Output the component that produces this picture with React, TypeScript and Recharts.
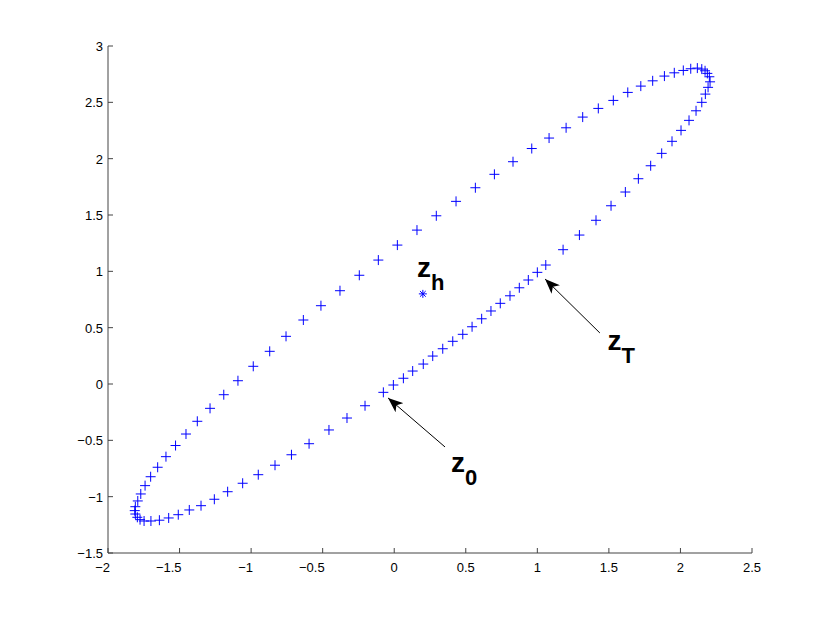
import { ScatterChart, Scatter, XAxis, YAxis, ReferenceLine } from 'recharts';

// trajectory samples (x, y)
const trajX = [
  -0.076, -0.006, 0.064, 0.129, 0.203, 0.269, 0.339, 0.409, 0.479, 0.544,
  0.611, 0.676, 0.741, 0.809, 0.874, 0.937, 1.0, 1.059, 1.18, 1.294,
  1.41, 1.515, 1.615, 1.706, 1.792, 1.869, 1.941, 2.004, 2.06, 2.109,
  2.149, 2.174, 2.193, 2.207, 2.202, 2.188, 2.172, 2.149, 2.118, 2.072,
  2.02, 1.957, 1.888, 1.806, 1.723, 1.632, 1.531, 1.426, 1.317, 1.201,
  1.082, 0.961, 0.83, 0.7, 0.567, 0.432, 0.294, 0.159, 0.022, -0.111,
  -0.244, -0.379, -0.512, -0.635, -0.756, -0.87, -0.985, -1.092, -1.191, -1.287,
  -1.376, -1.455, -1.528, -1.595, -1.653, -1.702, -1.741, -1.771, -1.792, -1.809,
  -1.813, -1.809, -1.795, -1.776, -1.748, -1.7, -1.641, -1.576, -1.509, -1.432,
  -1.35, -1.257, -1.164, -1.059, -0.95, -0.833, -0.718, -0.595, -0.456, -0.33,
  -0.204,
];
const trajY = [
  -0.074, -0.009, 0.051, 0.115, 0.177, 0.248, 0.313, 0.379, 0.441, 0.508,
  0.579, 0.648, 0.716, 0.783, 0.854, 0.923, 0.991, 1.056, 1.192, 1.322,
  1.453, 1.582, 1.704, 1.822, 1.937, 2.047, 2.154, 2.251, 2.34, 2.425,
  2.5, 2.573, 2.633, 2.682, 2.727, 2.757, 2.78, 2.795, 2.804, 2.798,
  2.783, 2.762, 2.733, 2.691, 2.644, 2.588, 2.517, 2.446, 2.369, 2.274,
  2.183, 2.09, 1.973, 1.861, 1.742, 1.621, 1.493, 1.366, 1.233, 1.1,
  0.965, 0.828, 0.695, 0.568, 0.423, 0.29, 0.157, 0.029, -0.095, -0.216,
  -0.331, -0.444, -0.546, -0.645, -0.739, -0.823, -0.902, -0.976, -1.038, -1.089,
  -1.124, -1.154, -1.183, -1.204, -1.216, -1.216, -1.209, -1.189, -1.16, -1.118,
  -1.08, -1.023, -0.956, -0.881, -0.805, -0.721, -0.628, -0.53, -0.408, -0.302,
  -0.193,
];

const centerX = [0.2];
const centerY = [0.8];

const xTicks = [-2, -1.5, -1, -0.5, 0, 0.5, 1, 1.5, 2, 2.5];
const yTicks = [-1.5, -1, -0.5, 0, 0.5, 1, 1.5, 2, 2.5, 3];

// annotations: z_h, z_T, z_0
const labelSub = ['h', 'T', '0'];
const labelX = [0.16, 1.49, 0.397];
const labelY = [0.95, 0.3, -0.78];

const arrowTailX = [1.437, 0.355];
const arrowTailY = [0.453, -0.559];
const arrowHeadX = [1.054, -0.043];
const arrowHeadY = [0.932, -0.124];

const trajData = trajX.map((x, i) => ({ x, y: trajY[i] }));
const centerData = centerX.map((x, i) => ({ x, y: centerY[i] }));
const labelData = labelX.map((x, i) => ({ x, y: labelY[i], sub: labelSub[i] }));

const FONT = "'Liberation Sans', Arial, Helvetica, sans-serif";
const AXIS = '#444';
const BLUE = '#0000ff';

const fmt = (v: number) => String(v).replace('-', '\u2212');

const Plus = (props: any) => {
  const { cx, cy } = props;
  return (
    <path
      d={`M${cx - 5},${cy}H${cx + 5}M${cx},${cy - 5}V${cy + 5}`}
      stroke={BLUE}
      strokeWidth={1}
      fill="none"
    />
  );
};

const Star = (props: any) => {
  const { cx, cy } = props;
  const r = 4;
  const d = r * 0.72;
  return (
    <path
      d={`M${cx - r},${cy}H${cx + r}M${cx},${cy - r}V${cy + r}M${cx - d},${cy - d}L${cx + d},${cy + d}M${cx - d},${cy + d}L${cx + d},${cy - d}`}
      stroke={BLUE}
      strokeWidth={1}
      fill="none"
    />
  );
};

const Label = (props: any) => {
  const { cx, cy, payload } = props;
  return (
    <text x={cx} y={cy} fontFamily={FONT} fontWeight="bold" fill="#000">
      <tspan fontSize={28}>z</tspan>
      <tspan fontSize={22} dx={0} dy={13}>
        {payload.sub}
      </tspan>
    </text>
  );
};

const XTick = (props: any) => {
  const { x, y, payload } = props;
  const neg = payload.value < 0;
  return (
    <g>
      <line x1={x} x2={x} y1={y} y2={y - 5} stroke={AXIS} />
      <text
        x={neg ? x + 2 : x}
        y={y + 19}
        textAnchor={neg ? 'end' : 'middle'}
        fontSize={13}
        fontFamily={FONT}
        fill="#000"
      >
        {fmt(payload.value)}
      </text>
    </g>
  );
};

const YTick = (props: any) => {
  const { x, y, payload } = props;
  return (
    <g>
      <line x1={x} x2={x + 5} y1={y} y2={y} stroke={AXIS} />
      <text x={x - 5} y={y + 5} textAnchor="end" fontSize={13} fontFamily={FONT} fill="#000">
        {fmt(payload.value)}
      </text>
    </g>
  );
};

export default function App() {
  return (
    <div style={{ position: 'absolute', left: 0, top: 0, background: '#fff' }}>
      <svg width={0} height={0} style={{ position: 'absolute' }}>
        <defs>
          <marker
            id="arrowHead"
            markerWidth={16}
            markerHeight={12}
            refX={15}
            refY={6}
            orient="auto"
            markerUnits="userSpaceOnUse"
          >
            <path d="M0,0 L15,6 L0,12 L4,6 Z" fill="#000" />
          </marker>
        </defs>
      </svg>
      <ScatterChart
        width={830}
        height={624}
        margin={{ top: 46, right: 78, bottom: 70, left: 107 }}
      >
        <XAxis
          type="number"
          dataKey="x"
          domain={[-2, 2.5]}
          ticks={xTicks}
          allowDataOverflow
          height={1}
          tickSize={0}
          tickMargin={0}
          tickLine={false}
          axisLine={false}
          tick={<XTick />}
          interval={0}
        />
        <YAxis
          type="number"
          dataKey="y"
          domain={[-1.5, 3]}
          ticks={yTicks}
          allowDataOverflow
          width={1}
          tickSize={0}
          tickMargin={0}
          tickLine={false}
          axisLine={false}
          tick={<YTick />}
          interval={0}
        />
        {/* axis lines, left and bottom only */}
        <ReferenceLine x={-2} stroke={AXIS} />
        <ReferenceLine y={-1.5} stroke={AXIS} />
        {arrowTailX.map((tx, i) => (
          <ReferenceLine
            key={`arrow-${i}`}
            segment={[
              { x: tx, y: arrowTailY[i] },
              { x: arrowHeadX[i], y: arrowHeadY[i] },
            ]}
            stroke="#000"
            strokeWidth={1}
            markerEnd="url(#arrowHead)"
          />
        ))}
        <Scatter data={trajData} shape={<Plus />} isAnimationActive={false} />
        <Scatter data={centerData} shape={<Star />} isAnimationActive={false} />
        <Scatter data={labelData} shape={<Label />} isAnimationActive={false} />
      </ScatterChart>
    </div>
  );
}
